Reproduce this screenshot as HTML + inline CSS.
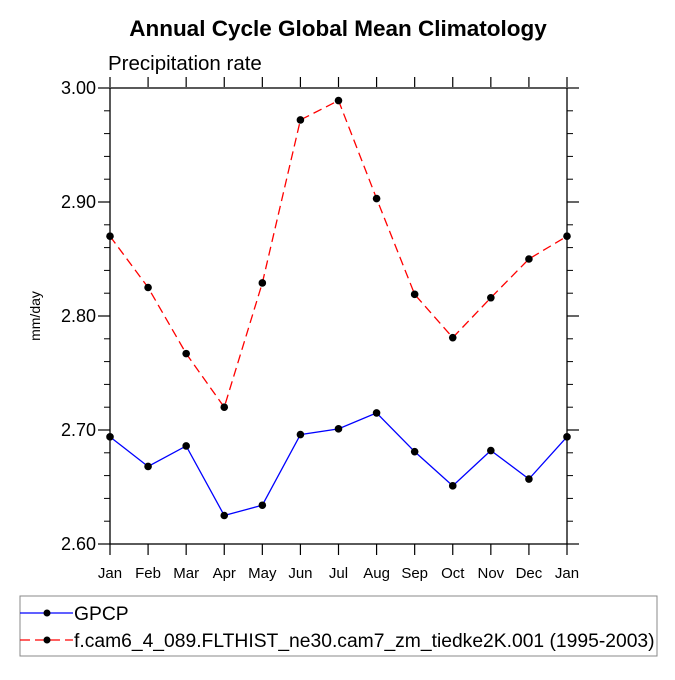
<!DOCTYPE html>
<html><head><meta charset="utf-8"><style>
body{margin:0;background:#fff;}
svg text{font-family:"Liberation Sans",Helvetica,sans-serif;fill:#000;}
</style></head><body>
<svg id="chart" width="675" height="675" viewBox="0 0 675 675" xmlns="http://www.w3.org/2000/svg">
<text x="338" y="36" text-anchor="middle" font-size="22.5" font-weight="bold">Annual Cycle Global Mean Climatology</text>
<text x="108" y="70" font-size="20.5">Precipitation rate</text>
<text transform="translate(40,316) rotate(-90)" text-anchor="middle" font-size="14">mm/day</text>
<g id="axes"></g>
<g id="series"></g>
<g id="legend">
<rect x="20" y="596" width="637" height="60" fill="none" stroke="#888" stroke-width="1"/>
<g>
<line x1="20" y1="613" x2="73" y2="613" stroke="#0000ff" stroke-width="1.3"/>
<circle cx="47" cy="613" r="3.5" fill="#000"/>
<text x="74" y="620" font-size="19.3">GPCP</text></g>
<g>
<line x1="20" y1="640" x2="73" y2="640" stroke="#ff0000" stroke-width="1.3" stroke-dasharray="10,5"/>
<circle cx="47" cy="640" r="3.5" fill="#000"/>
<text x="74" y="647" font-size="19.3">f.cam6_4_089.FLTHIST_ne30.cam7_zm_tiedke2K.001 (1995-2003)</text></g>
</g>
</svg>
<script>
const months = ["Jan","Feb","Mar","Apr","May","Jun","Jul","Aug","Sep","Oct","Nov","Dec","Jan"];
const gpcpValues = [2.694,2.668,2.686,2.625,2.634,2.696,2.701,2.715,2.681,2.651,2.682,2.657,2.694];
const modelValues = [2.870,2.825,2.767,2.720,2.829,2.972,2.989,2.903,2.819,2.781,2.816,2.850,2.870];
const yTicks = [2.60,2.70,2.80,2.90,3.00];
const yTickLabels = ["2.60","2.70","2.80","2.90","3.00"];

const L=110,R=567,T=88,B=544,yMin=2.6,yMax=3.0;
const NS="http://www.w3.org/2000/svg";
const xs=i=>L+(R-L)*i/(months.length-1);
const ys=v=>B-(v-yMin)/(yMax-yMin)*(B-T);
function mk(tag,attrs,parent){const e=document.createElementNS(NS,tag);for(const k in attrs)e.setAttribute(k,attrs[k]);parent.appendChild(e);return e;}
const axes=document.getElementById('axes');
const frame=mk('rect',{x:L,y:T,width:R-L,height:B-T,fill:'none',stroke:'#000','stroke-width':1.3},axes);


yTicks.forEach((v,i)=>{
  const y=ys(v);
  const tl=mk('line',{x1:L-12,y1:y,x2:L,y2:y,stroke:'#000','stroke-width':1.2},axes);
  
  
  mk('line',{x1:R,y1:y,x2:R+12,y2:y,stroke:'#000','stroke-width':1.2},axes);
  const t=mk('text',{x:L-14,y:y+6,'text-anchor':'end','font-size':18},axes);
  t.textContent=yTickLabels[i];
  
  
  if(i<yTicks.length-1){
    for(let k=1;k<5;k++){const ym=ys(v+(yTicks[i+1]-v)*k/5);
      mk('line',{x1:L-6,y1:ym,x2:L,y2:ym,stroke:'#000','stroke-width':1},axes);
      mk('line',{x1:R,y1:ym,x2:R+6,y2:ym,stroke:'#000','stroke-width':1},axes);}
  }
});
months.forEach((m,i)=>{
  const x=xs(i);
  mk('line',{x1:x,y1:B,x2:x,y2:B+11,stroke:'#000','stroke-width':1.2},axes);
  mk('line',{x1:x,y1:T-1,x2:x,y2:T-11,stroke:'#000','stroke-width':1.2},axes);
  const t=mk('text',{x:x,y:B+34,'text-anchor':'middle','font-size':15},axes);
  t.textContent=m;
  
  
});
const series=document.getElementById('series');
function draw(vals,color,dash,name){
  const pts=vals.map((v,i)=>xs(i)+','+ys(v)).join(' ');
  const pl=mk('polyline',{points:pts,fill:'none',stroke:color,'stroke-width':1.3,'stroke-dasharray':dash},series);
  
  
  vals.forEach((v,i)=>{
    const c=mk('circle',{cx:xs(i),cy:ys(v),r:3.8,fill:'#000'},series);
    
    
  });
}
draw(modelValues,'#ff0000','9,5','model');
draw(gpcpValues,'#0000ff','none','gpcp');
</script>
</body></html>
